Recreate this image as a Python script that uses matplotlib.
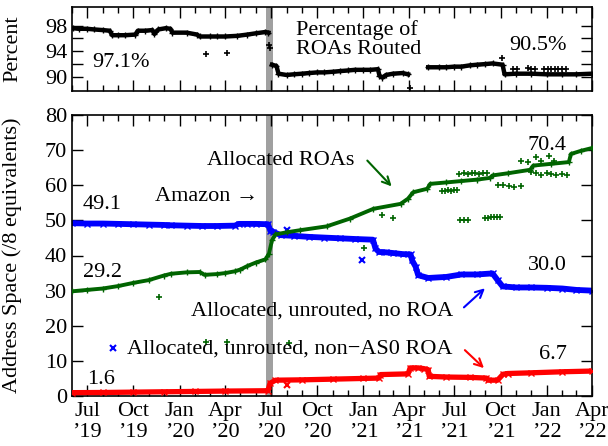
import numpy as np
import pandas as pd
import matplotlib
matplotlib.use("Agg")
import matplotlib.pyplot as plt
import matplotlib.dates as mdates
from matplotlib.ticker import FuncFormatter

plt.rcParams['font.family'] = ['Liberation Serif', 'DejaVu Serif']
plt.rcParams['font.size'] = 16

# === Data ===
# top panel: percentage of ROAs routed
pct_dates = ["2019-06-02", "2019-06-15", "2019-07-01", "2019-07-15", "2019-08-01", "2019-08-15",
             "2019-08-20", "2019-09-01", "2019-09-15", "2019-10-05", "2019-10-10", "2019-10-25",
             "2019-11-08", "2019-11-12", "2019-11-20", "2019-12-05", "2019-12-14", "2019-12-18",
             "2020-01-15", "2020-02-05", "2020-02-10", "2020-03-01", "2020-03-15", "2020-04-01",
             "2020-04-25", "2020-05-15", "2020-06-01", "2020-06-20", "2020-06-26", "2020-06-28",
             "2020-07-03", "2020-07-12", "2020-07-16", "2020-08-01", "2020-08-15", "2020-09-01",
             "2020-09-15", "2020-10-01", "2020-10-15", "2020-11-01", "2020-11-15", "2020-12-01",
             "2020-12-15", "2021-01-01", "2021-01-15", "2021-01-30", "2021-02-02", "2021-02-08",
             "2021-02-15", "2021-03-01", "2021-03-20", "2021-03-31", "2021-04-02",
             "2021-05-10", "2021-06-01", "2021-06-15", "2021-07-01", "2021-07-15", "2021-08-01",
             "2021-08-15", "2021-09-01", "2021-09-15", "2021-10-05", "2021-10-09", "2021-11-01",
             "2021-12-01", "2022-01-01", "2022-02-01", "2022-03-01", "2022-04-01"]
pct_vals = [97.6, 97.5, 97.5, 97.4, 97.3, 97.2,
            96.5, 96.5, 96.5, 96.6, 97.2, 97.2,
            97.3, 96.7, 97.4, 97.6, 97.5, 96.9,
            96.9, 96.6, 96.3, 96.3, 96.3, 96.3,
            96.4, 96.6, 96.8, 97.0, 96.9, np.nan,
            91.9, 91.7, 90.5, 90.3, 90.4, 90.5,
            90.6, 90.7, 90.7, 90.8, 90.9, 91.0,
            91.1, 91.1, 91.1, 91.2, 90.2, 89.9,
            90.3, 90.5, 90.6, 90.4, np.nan,
            91.5, 91.5, 91.5, 91.6, 91.6, 91.8,
            91.9, 92.0, 92.1, 91.9, 90.4, 90.5,
            90.5, 90.4, 90.4, 90.4, 90.5]
pct_out_dates = ["2020-02-22", "2020-04-04", "2020-06-28", "2020-06-29", "2021-04-03",
                 "2021-10-04", "2021-10-25", "2021-11-02",
                 "2021-11-25", "2021-12-01", "2021-12-08", "2021-12-27", "2022-01-03",
                 "2022-01-10", "2022-01-17", "2022-01-24", "2022-02-01", "2022-02-08"]
pct_out_vals = [93.5, 93.7, 94.9, 94.5, 88.3,
                92.9, 91.3, 91.3,
                91.4, 91.3, 91.3, 91.3, 91.3,
                91.2, 91.2, 91.2, 91.2, 91.2]

# bottom panel: allocated, unrouted, no ROA (blue)
noroa_dates = ["2019-06-01", "2019-07-01", "2019-08-01", "2019-09-01", "2019-10-01", "2019-11-01",
               "2019-12-01", "2019-12-15", "2020-01-15", "2020-02-15", "2020-03-15", "2020-04-20",
               "2020-04-28", "2020-05-15", "2020-06-01", "2020-06-25", "2020-06-30", "2020-07-05",
               "2020-07-20", "2020-08-15", "2020-09-15", "2020-10-15", "2020-11-15", "2020-12-15",
               "2021-01-20", "2021-01-25", "2021-02-01", "2021-02-15", "2021-03-01", "2021-03-20",
               "2021-04-05", "2021-04-08", "2021-04-15", "2021-04-20", "2021-05-10", "2021-06-15",
               "2021-07-15", "2021-08-15", "2021-09-15", "2021-09-25", "2021-10-05", "2021-11-01",
               "2021-12-01", "2022-01-01", "2022-02-01", "2022-03-01", "2022-04-01"]
noroa_vals = [49.2, 49.1, 49.1, 49.0, 48.9, 48.8,
              48.7, 48.6, 48.5, 48.4, 48.4, 48.5,
              49.0, 49.0, 49.0, 48.9, 47.0, 46.8,
              45.8, 45.6, 45.3, 45.1, 44.9, 44.7,
              44.5, 42.0, 41.0, 40.9, 40.7, 40.4,
              40.3, 38.6, 36.8, 34.4, 33.6, 33.9,
              34.6, 34.6, 34.9, 33.0, 31.2, 30.9,
              30.9, 30.8, 30.6, 30.2, 30.0]
noroa_out_dates = ["2019-08-22", "2020-08-01", "2020-12-30"]
noroa_out_vals = [13.6, 47.3, 38.8]

# allocated ROAs (green)
roa_dates = ["2019-06-01", "2019-07-01", "2019-08-01", "2019-09-01", "2019-10-01", "2019-11-01",
             "2019-12-01", "2019-12-15", "2020-01-15", "2020-02-10", "2020-02-20", "2020-03-15",
             "2020-04-01", "2020-04-20", "2020-05-01", "2020-05-15", "2020-06-01", "2020-06-20",
             "2020-06-27", "2020-07-03", "2020-07-10", "2020-08-01", "2020-08-28", "2020-10-20",
             "2020-12-05", "2021-01-21", "2021-03-16", "2021-03-31", "2021-04-10", "2021-05-08",
             "2021-05-14", "2021-06-15", "2021-07-15", "2021-08-15", "2021-09-10", "2021-09-15",
             "2021-10-15", "2021-11-29", "2021-12-05", "2022-01-10", "2022-02-14", "2022-02-18",
             "2022-03-10", "2022-04-01"]
roa_vals = [29.8, 30.2, 30.6, 31.3, 32.2, 33.0,
            34.3, 34.8, 35.2, 35.3, 34.5, 34.7,
            35.0, 35.5, 36.0, 37.0, 38.0, 38.9,
            40.5, 44.3, 46.0, 46.6, 47.2, 48.3,
            50.5, 53.3, 54.7, 56.2, 58.0, 59.0,
            60.4, 60.8, 61.2, 61.6, 62.1, 62.8,
            63.4, 64.4, 65.6, 66.1, 66.6, 68.9,
            69.8, 70.6]
roa_out_dates = ["2019-11-22", "2020-02-22", "2020-04-05", "2020-08-05", "2021-01-03",
                 "2021-02-07", "2021-02-28",
                 "2021-06-06", "2021-06-12", "2021-06-18", "2021-06-24", "2021-06-30", "2021-07-06",
                 "2021-07-10", "2021-07-20", "2021-07-28", "2021-08-05", "2021-08-12", "2021-08-20",
                 "2021-08-28", "2021-09-05",
                 "2021-07-12", "2021-07-20", "2021-07-28", "2021-08-31", "2021-09-06", "2021-09-12",
                 "2021-09-18", "2021-09-24", "2021-09-30",
                 "2021-09-26", "2021-10-06", "2021-10-18", "2021-10-28", "2021-11-10",
                 "2021-11-10", "2021-11-25", "2021-12-10", "2021-12-20", "2022-01-05", "2022-01-15",
                 "2021-11-30", "2021-12-10", "2021-12-20", "2022-01-01", "2022-01-10", "2022-01-20",
                 "2022-02-01", "2022-02-10"]
roa_out_vals = [28.2, 15.4, 15.5, 15.1, 42.0,
                51.4, 50.7,
                58.4, 58.5, 58.6, 58.5, 58.6, 58.7,
                63.3, 63.4, 63.2, 63.4, 63.5, 63.3,
                63.5, 63.4,
                50.0, 50.0, 50.1, 50.8, 50.8, 50.9,
                50.9, 51.0, 51.1,
                60.0, 60.0, 59.7, 59.5, 59.8,
                66.8, 66.5, 68.0, 66.8, 68.3, 66.9,
                63.7, 63.4, 62.9, 63.6, 63.2, 62.9,
                63.3, 63.0]

# allocated, unrouted, non-AS0 ROA (red)
nonas0_dates = ["2019-06-01", "2019-08-01", "2019-10-01", "2019-12-01", "2020-02-01", "2020-04-01",
                "2020-06-25", "2020-06-29", "2020-07-10", "2020-09-01", "2020-11-01", "2021-01-01",
                "2021-02-01", "2021-02-04", "2021-03-31", "2021-04-04", "2021-04-20", "2021-05-01",
                "2021-05-10", "2021-05-12", "2021-06-15", "2021-08-01", "2021-09-03", "2021-09-06",
                "2021-09-25", "2021-10-06", "2021-10-15", "2021-12-01", "2022-02-01", "2022-04-01"]
nonas0_vals = [0.95, 1.0, 1.1, 1.2, 1.3, 1.4,
               1.5, 3.6, 4.5, 4.6, 4.8, 5.0,
               5.1, 6.1, 6.3, 8.0, 8.0, 7.8,
               7.5, 5.6, 5.4, 5.3, 5.1, 4.5,
               4.5, 6.2, 6.4, 6.6, 6.9, 7.1]
nonas0_out_dates = ["2020-08-01"]
nonas0_out_vals = [3.1]

amazon_start, amazon_end = "2020-06-22", "2020-07-05"
x_start, x_end = "2019-06-01", "2022-04-01"

green = "#006400"
blue = "#0000ff"
red = "#ff0000"
d = pd.to_datetime

fig = plt.figure(figsize=(6.08, 4.46), dpi=100)
ax_top = fig.add_axes([72/608, 1-91/446, 520/608, 84/446])
ax = fig.add_axes([72/608, 1-396/446, 520/608, 281/446])

def month_label(x, pos):
    dt = mdates.num2date(x)
    return dt.strftime("%b") + "\n\u2019" + dt.strftime("%y")

for a in (ax_top, ax):
    a.axvspan(d(amazon_start), d(amazon_end), color="#a0a0a0", lw=0, zorder=0)
    a.set_xlim(d(x_start), d(x_end))
    a.xaxis.set_major_locator(mdates.MonthLocator(bymonth=[1, 4, 7, 10]))
    a.xaxis.set_minor_locator(mdates.MonthLocator())
    a.tick_params(which="both", direction="in", top=True, right=True, width=1.0)
    a.tick_params(which="major", length=8)
    a.tick_params(which="minor", length=4)
    for s in a.spines.values():
        s.set_linewidth(1.2)

# === Top panel ===
ax_top.plot(d(pct_dates), pct_vals, color="black", marker="+", ms=4, lw=3.2, zorder=3)
ax_top.plot(d(pct_out_dates), pct_out_vals, color="black", marker="+", ms=5, mew=1.2, lw=0, zorder=3)
ax_top.set_ylim(87.8, 100.9)
ax_top.set_yticks([90, 92, 94, 96, 98])
ax_top.set_yticklabels(["90", "", "94", "", "98"])
ax_top.tick_params(axis="x", labelbottom=False)
ax_top.set_ylabel("Percent")
ax_top.yaxis.set_label_coords(-0.096, 0.5)
ax_top.text(d("2019-07-11"), 92.3, "97.1%", ha="left", va="center")
ax_top.text(d("2022-02-10"), 94.9, "90.5%", ha="right", va="center")
ax_top.text(d("2020-08-20"), 95.8, "Percentage of\nROAs Routed", ha="left", va="center", linespacing=1.0)

# === Bottom panel ===
ax.plot(d(noroa_dates), noroa_vals, color=blue, marker="x", ms=4, lw=4.2, zorder=2)
ax.plot(d(noroa_out_dates), noroa_out_vals, color=blue, marker="x", ms=4, mew=1.5, lw=0, zorder=2)
ax.plot(d(roa_dates), roa_vals, color=green, marker="+", ms=4, lw=2.8, zorder=3)
ax.plot(d(roa_out_dates), roa_out_vals, color=green, marker="+", ms=5, mew=1.2, lw=0, zorder=3)
ax.plot(d(nonas0_dates), nonas0_vals, color=red, marker="x", ms=4, lw=3.8, zorder=4)
ax.plot(d(nonas0_out_dates), nonas0_out_vals, color=red, marker="x", ms=4, mew=1.5, lw=0, zorder=4)

ax.set_ylim(0, 80)
ax.set_yticks(range(0, 81, 10))
ax.xaxis.set_major_formatter(FuncFormatter(month_label))
ax.tick_params(axis="x", which="major", pad=4)
ax.set_ylabel("Address Space (/8 equivalents)")
ax.yaxis.set_label_coords(-0.096, 0.5)

for txt, dt, v, ha in [("49.1", "2019-06-23", 54.5, "left"), ("29.2", "2019-06-23", 35.2, "left"),
                       ("1.6", "2019-07-01", 4.7, "left"), ("70.4", "2022-02-10", 71.4, "right"),
                       ("30.0", "2022-02-10", 37.1, "right"), ("6.7", "2022-02-10", 11.8, "right")]:
    ax.text(d(dt), v, txt, ha=ha, va="center")

ax.text(d("2020-06-05"), 56.8, "Amazon \u2192", ha="right", va="center")
ax.text(d("2020-02-25"), 67.0, "Allocated ROAs", ha="left", va="center")
ax.text(d("2021-06-28"), 24.1, "Allocated, unrouted, no ROA", ha="right", va="center")
ax.text(d("2021-06-28"), 13.5, "Allocated, unrouted, non\u2212AS0 ROA", ha="right", va="center")

arrow = dict(arrowstyle="->", lw=1.5, mutation_scale=14)
ax.annotate("", xy=(d("2021-03-02"), 59.1), xytext=(d("2021-01-05"), 67.6),
            arrowprops=dict(arrow, color=green))
ax.annotate("", xy=(d("2021-09-04"), 31.2), xytext=(d("2021-07-16"), 24.7),
            arrowprops=dict(arrow, color=blue))
ax.annotate("", xy=(d("2021-09-02"), 7.4), xytext=(d("2021-07-18"), 13.6),
            arrowprops=dict(arrow, color=red))

plt.savefig("out.png", dpi=100)
